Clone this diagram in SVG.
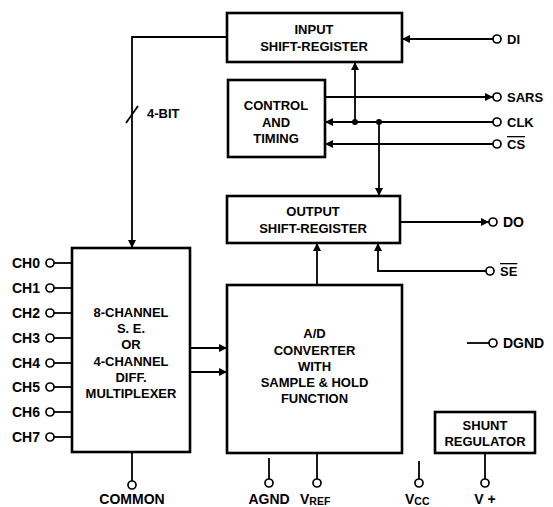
<svg xmlns="http://www.w3.org/2000/svg" width="553" height="507" viewBox="0 0 553 507">
<defs>
<style>
.box{fill:#fff;stroke:#000;stroke-width:2.6}
.ln{fill:none;stroke:#000;stroke-width:1.8}
.pin{fill:#fff;stroke:#000;stroke-width:1.7}
.dot{fill:#000}
text{font-family:"Liberation Sans",Arial,sans-serif;font-weight:bold;font-size:13px;fill:#000}
.big{font-size:14px}
.c{text-anchor:middle}
.e{text-anchor:end}
.ov{text-decoration:overline}
</style>
<marker id="ah" viewBox="0 0 10 10" refX="10" refY="5" markerWidth="10" markerHeight="8" markerUnits="userSpaceOnUse" orient="auto">
<path d="M0,0 L10,5 L0,10 Z" fill="#000"/>
</marker>
</defs>
<rect width="553" height="507" fill="#fff"/>

<g id="connectors">
<polyline class="ln" points="227,37 132,37 132,248" marker-end="url(#ah)"/>
<line class="ln" x1="126" y1="123" x2="138" y2="106"/>
<line class="ln" x1="493" y1="39" x2="402" y2="39" marker-end="url(#ah)"/>
<line class="ln" x1="355" y1="122" x2="355" y2="62" marker-end="url(#ah)"/>
<line class="ln" x1="325" y1="97" x2="493" y2="97" marker-end="url(#ah)"/>
<line class="ln" x1="493" y1="122" x2="325" y2="122" marker-end="url(#ah)"/>
<line class="ln" x1="493" y1="144" x2="325" y2="144" marker-end="url(#ah)"/>
<line class="ln" x1="379" y1="122" x2="379" y2="196" marker-end="url(#ah)"/>
<circle class="dot" cx="355" cy="122" r="3"/>
<circle class="dot" cx="379" cy="122" r="3"/>
<line class="ln" x1="400" y1="222" x2="489" y2="222" marker-end="url(#ah)"/>
<line class="ln" x1="317" y1="285" x2="317" y2="243" marker-end="url(#ah)"/>
<polyline class="ln" points="486,271 378,271 378,243" marker-end="url(#ah)"/>
<line class="ln" x1="190" y1="348" x2="227" y2="348" marker-end="url(#ah)"/>
<line class="ln" x1="190" y1="372" x2="227" y2="372" marker-end="url(#ah)"/>
<line class="ln" x1="467" y1="343" x2="489" y2="343"/>
<line class="ln" x1="132" y1="452" x2="132" y2="481"/>
<line class="ln" x1="269" y1="458" x2="269" y2="479"/>
<line class="ln" x1="317" y1="453" x2="317" y2="479"/>
<line class="ln" x1="419" y1="461" x2="419" y2="479"/>
<line class="ln" x1="485" y1="453" x2="485" y2="479"/>
<line class="ln" x1="54" y1="263" x2="72" y2="263"/>
<line class="ln" x1="54" y1="288" x2="72" y2="288"/>
<line class="ln" x1="54" y1="313" x2="72" y2="313"/>
<line class="ln" x1="54" y1="338" x2="72" y2="338"/>
<line class="ln" x1="54" y1="363" x2="72" y2="363"/>
<line class="ln" x1="54" y1="387" x2="72" y2="387"/>
<line class="ln" x1="54" y1="412" x2="72" y2="412"/>
<line class="ln" x1="54" y1="437" x2="72" y2="437"/>
</g>

<g id="input-shift-register">
<rect class="box" x="227" y="13" width="175" height="49"/>
<text class="c" x="314" y="34">INPUT</text>
<text class="c" x="314" y="51">SHIFT-REGISTER</text>
</g>

<g id="control-timing">
<rect class="box" x="228" y="80" width="97" height="77"/>
<text class="c" x="276" y="110">CONTROL</text>
<text class="c" x="276" y="127">AND</text>
<text class="c" x="276" y="143">TIMING</text>
</g>

<g id="output-shift-register">
<rect class="box" x="227" y="196" width="173" height="47"/>
<text class="c" x="313" y="216">OUTPUT</text>
<text class="c" x="313" y="233">SHIFT-REGISTER</text>
</g>

<g id="multiplexer">
<rect class="box" x="72" y="248" width="118" height="204"/>
<text class="c" x="131" y="317">8-CHANNEL</text>
<text class="c" x="131" y="333">S. E.</text>
<text class="c" x="131" y="349">OR</text>
<text class="c" x="131" y="366">4-CHANNEL</text>
<text class="c" x="131" y="382">DIFF.</text>
<text class="c" x="131" y="398">MULTIPLEXER</text>
</g>

<g id="ad-converter">
<rect class="box" x="227" y="285" width="175" height="168"/>
<text class="c" x="314.5" y="338">A/D</text>
<text class="c" x="314.5" y="355">CONVERTER</text>
<text class="c" x="314.5" y="371">WITH</text>
<text class="c" x="314.5" y="387">SAMPLE &amp; HOLD</text>
<text class="c" x="314.5" y="403">FUNCTION</text>
</g>

<g id="shunt-regulator">
<rect class="box" x="435" y="412" width="100" height="41"/>
<text class="c" x="485" y="430">SHUNT</text>
<text class="c" x="485" y="446">REGULATOR</text>
</g>

<g id="label-4bit"><text x="147" y="118">4-BIT</text></g>

<g id="pin-di"><circle class="pin" cx="497" cy="39" r="4"/><text x="507" y="44">DI</text></g>
<g id="pin-sars"><circle class="pin" cx="497" cy="97" r="4"/><text x="507" y="102">SARS</text></g>
<g id="pin-clk"><circle class="pin" cx="497" cy="122" r="4"/><text x="507" y="127">CLK</text></g>
<g id="pin-cs"><circle class="pin" cx="497" cy="144" r="4"/><text class="ov" x="507" y="149">CS</text></g>
<g id="pin-do"><circle class="pin" cx="493" cy="222" r="4"/><text class="big" x="503" y="227">DO</text></g>
<g id="pin-se"><circle class="pin" cx="490" cy="271" r="4"/><text class="ov" x="500" y="276">SE</text></g>
<g id="pin-dgnd"><circle class="pin" cx="493" cy="343" r="4"/><text class="big" x="503" y="348">DGND</text></g>

<g id="pin-ch0"><circle class="pin" cx="50" cy="263" r="4"/><text class="e big" x="40" y="268">CH0</text></g>
<g id="pin-ch1"><circle class="pin" cx="50" cy="288" r="4"/><text class="e big" x="40" y="293">CH1</text></g>
<g id="pin-ch2"><circle class="pin" cx="50" cy="313" r="4"/><text class="e big" x="40" y="318">CH2</text></g>
<g id="pin-ch3"><circle class="pin" cx="50" cy="338" r="4"/><text class="e big" x="40" y="343">CH3</text></g>
<g id="pin-ch4"><circle class="pin" cx="50" cy="363" r="4"/><text class="e big" x="40" y="368">CH4</text></g>
<g id="pin-ch5"><circle class="pin" cx="50" cy="387" r="4"/><text class="e big" x="40" y="392">CH5</text></g>
<g id="pin-ch6"><circle class="pin" cx="50" cy="412" r="4"/><text class="e big" x="40" y="417">CH6</text></g>
<g id="pin-ch7"><circle class="pin" cx="50" cy="437" r="4"/><text class="e big" x="40" y="442">CH7</text></g>

<g id="pin-common"><circle class="pin" cx="132" cy="485" r="4"/><text class="c big" x="132" y="504">COMMON</text></g>
<g id="pin-agnd"><circle class="pin" cx="269" cy="483" r="4"/><text class="c big" x="269" y="504">AGND</text></g>
<g id="pin-vref"><circle class="pin" cx="317" cy="483" r="4"/><text class="big" x="300" y="504">V<tspan font-size="10.5" dy="1">REF</tspan></text></g>
<g id="pin-vcc"><circle class="pin" cx="419" cy="483" r="4"/><text class="big" x="405" y="504">V<tspan font-size="10.5" dy="1">CC</tspan></text></g>
<g id="pin-vplus"><circle class="pin" cx="485" cy="483" r="4"/><text class="c big" x="485" y="504">V +</text></g>
</svg>
